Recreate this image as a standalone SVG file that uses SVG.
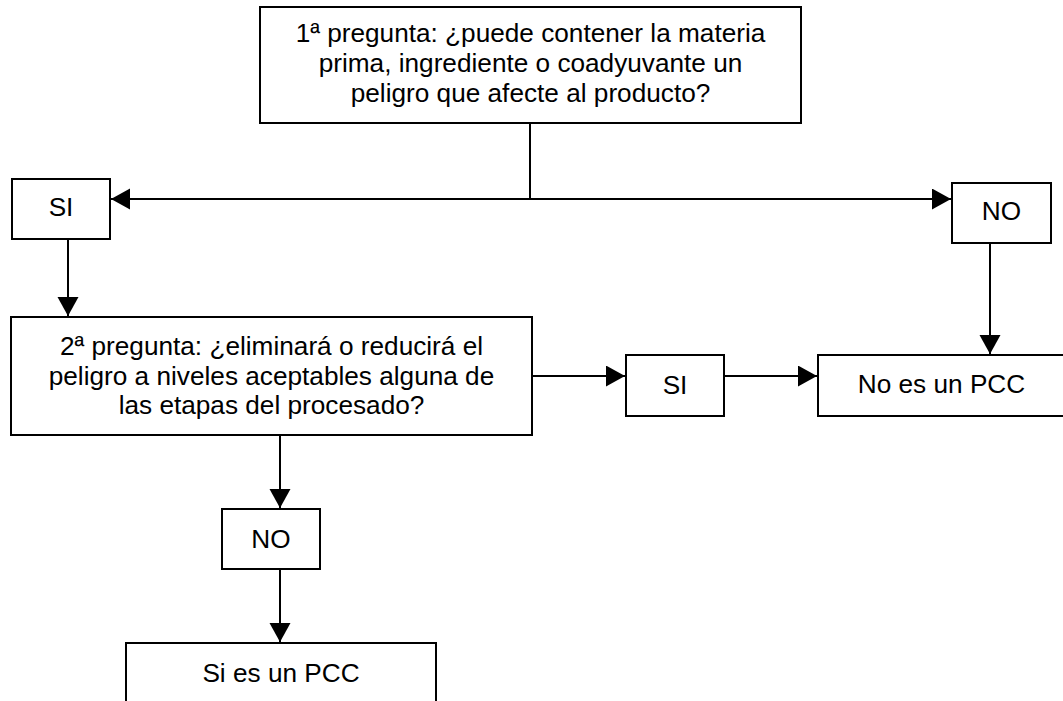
<svg xmlns="http://www.w3.org/2000/svg" width="1063" height="701" viewBox="0 0 1063 701">
  <defs>
    <style>
      .box { fill: #ffffff; stroke: #000000; stroke-width: 2; }
      .lbl { font-family: "Liberation Sans", Arial, sans-serif; font-size: 26.2px; fill: #000000; text-anchor: middle; }
      .conn { stroke: #000000; stroke-width: 2; fill: none; }
    </style>
    <marker id="arr" markerUnits="userSpaceOnUse" markerWidth="20" markerHeight="22" refX="19" refY="10.5" orient="auto">
      <path d="M0,0 L19,10.5 L0,21 z" fill="#000000"/>
    </marker>
  </defs>
  <rect width="1063" height="701" fill="#ffffff"/>

  <g id="connectors">
    <line class="conn" x1="530" y1="123" x2="530" y2="199"/>
    <line class="conn" x1="530" y1="199" x2="111" y2="199" marker-end="url(#arr)"/>
    <line class="conn" x1="530" y1="199" x2="951" y2="199" marker-end="url(#arr)"/>
    <line class="conn" x1="68" y1="239" x2="68" y2="316" marker-end="url(#arr)"/>
    <line class="conn" x1="990" y1="243" x2="990" y2="354" marker-end="url(#arr)"/>
    <line class="conn" x1="532" y1="376" x2="625" y2="376" marker-end="url(#arr)"/>
    <line class="conn" x1="724" y1="376" x2="817" y2="376" marker-end="url(#arr)"/>
    <line class="conn" x1="280" y1="435" x2="280" y2="508" marker-end="url(#arr)"/>
    <line class="conn" x1="280" y1="569" x2="280" y2="642" marker-end="url(#arr)"/>
  </g>

  <g id="q1">
    <rect class="box" x="260" y="7" width="541" height="116"/>
    <text class="lbl" x="530.5" y="42">1ª pregunta: ¿puede contener la materia</text>
    <text class="lbl" x="530.5" y="72">prima, ingrediente o coadyuvante un</text>
    <text class="lbl" x="530.5" y="101.5">peligro que afecte al producto?</text>
  </g>

  <g id="si1">
    <rect class="box" x="12" y="179" width="98" height="60"/>
    <text class="lbl" x="61" y="216">SI</text>
  </g>

  <g id="no1">
    <rect class="box" x="952" y="183" width="99" height="60"/>
    <text class="lbl" x="1001.5" y="220">NO</text>
  </g>

  <g id="q2">
    <rect class="box" x="11" y="317" width="521" height="118"/>
    <text class="lbl" x="271.5" y="355">2ª pregunta: ¿eliminará o reducirá el</text>
    <text class="lbl" x="271.5" y="384.5">peligro a niveles aceptables alguna de</text>
    <text class="lbl" x="271.5" y="414">las etapas del procesado?</text>
  </g>

  <g id="si2">
    <rect class="box" x="626" y="355" width="98" height="61"/>
    <text class="lbl" x="675" y="394">SI</text>
  </g>

  <g id="nopcc">
    <rect class="box" x="818" y="355" width="250" height="61"/>
    <text class="lbl" x="941.5" y="393">No es un PCC</text>
  </g>

  <g id="no2">
    <rect class="box" x="222" y="509" width="98" height="60"/>
    <text class="lbl" x="271" y="548">NO</text>
  </g>

  <g id="sipcc">
    <rect class="box" x="126" y="643" width="310" height="70"/>
    <text class="lbl" x="281" y="682">Si es un PCC</text>
  </g>
</svg>
